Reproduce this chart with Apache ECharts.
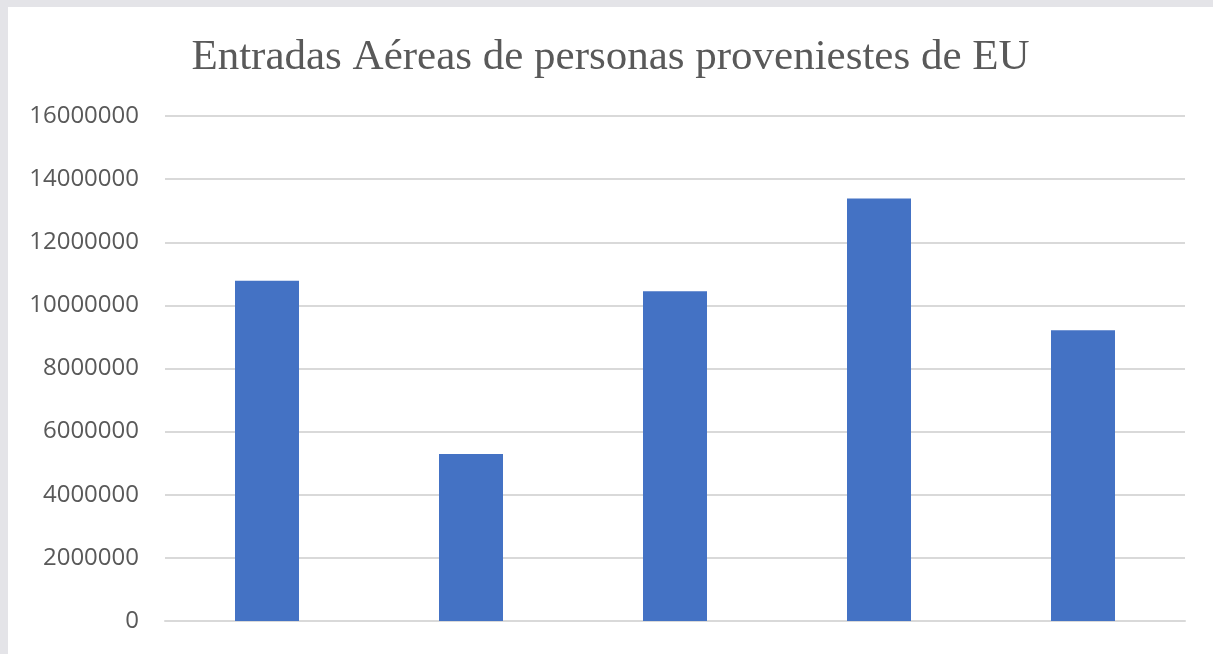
<!DOCTYPE html>
<html>
<head>
<meta charset="utf-8">
<script src="https://cdn.jsdelivr.net/npm/echarts@6/dist/echarts.min.js"></script>
<style>
  html, body { margin: 0; padding: 0; background: #e4e4e8; }
  #chart { position: absolute; left: 8px; top: 7px; width: 1205px; height: 647px; background: #ffffff; }
</style>
</head>
<body>
<div id="chart"></div>
<script>
// datos
const titulo = 'Entradas Aéreas de personas proveniestes de EU';
const categorias = ['1', '2', '3', '4', '5'];
const entradas = [10780000, 5290000, 10450000, 13390000, 9210000];
const ejeY = { min: 0, max: 16000000, interval: 2000000 };

let myChart = echarts.init(document.getElementById('chart'));
let option = {
  animation: false,
  title: {
    text: titulo,
    left: 'center',
    top: 24,
    textStyle: {
      fontFamily: 'Liberation Serif',
      fontWeight: 'normal',
      fontSize: 43,
      color: '#595959'
    }
  },
  grid: {
    left: 157,
    right: 28,
    top: 109,
    bottom: 33
  },
  xAxis: {
    type: 'category',
    data: categorias,
    axisLine: { lineStyle: { color: '#d9d9d9', width: 2 } },
    axisTick: { show: false },
    axisLabel: { show: false }
  },
  yAxis: {
    type: 'value',
    min: ejeY.min,
    max: ejeY.max,
    interval: ejeY.interval,
    axisLine: { show: false },
    axisTick: { show: false },
    axisLabel: {
      margin: 26,
      fontFamily: 'Open Sans',
      fontSize: 24,
      color: '#595959',
      formatter: (v) => String(v)
    },
    splitLine: { lineStyle: { color: '#d9d9d9', width: 2 } }
  },
  series: [
    {
      type: 'bar',
      data: entradas,
      barWidth: 64,
      itemStyle: { color: '#4472c4' }
    }
  ]
};
myChart.setOption(option);
</script>
</body>
</html>
